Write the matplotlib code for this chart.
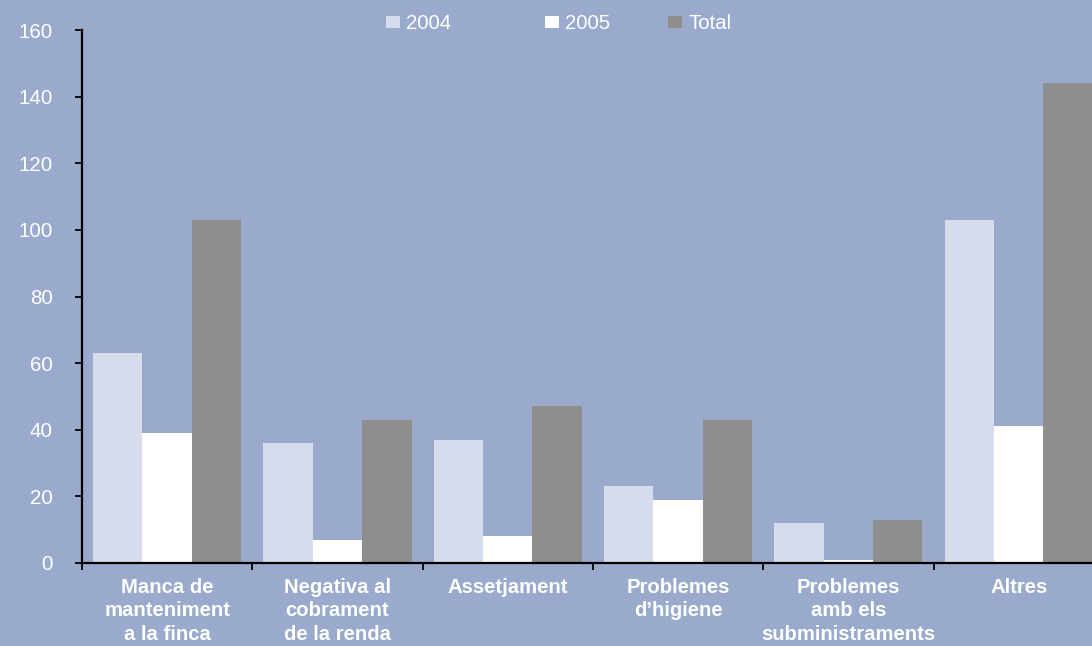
import matplotlib.pyplot as plt
import numpy as np
from matplotlib.patches import Patch

plt.rcParams['font.family'] = ['Liberation Sans', 'DejaVu Sans']

categories = [
    "Manca de\nmanteniment\na la finca",
    "Negativa al\ncobrament\nde la renda",
    "Assetjament",
    "Problemes\nd\u2019higiene",
    "Problemes\namb els\nsubministraments",
    "Altres",
]
series_names = ["2004", "2005", "Total"]
values_2004 = [63, 36, 37, 23, 12, 103]
values_2005 = [39, 7, 8, 19, 1, 41]
values_total = [103, 43, 47, 43, 13, 144]
y_ticks = [0, 20, 40, 60, 80, 100, 120, 140, 160]

bg = "#99aacd"
colors = ["#d6dcec", "#ffffff", "#8e8e8e"]

fig = plt.figure(figsize=(10.92, 6.46), dpi=100, facecolor=bg)
ax = fig.add_axes([82 / 1092, 83 / 646, 6 * 170.3 / 1092, 533 / 646])
ax.set_facecolor(bg)

x = np.arange(len(categories))
width = 0.29
for i, (vals, name) in enumerate(zip([values_2004, values_2005, values_total], series_names)):
    ax.bar(x + (i - 1) * width, vals, width, color=colors[i], label=name, linewidth=0)

ax.set_xlim(-0.5, len(categories) - 0.5)
ax.set_ylim(0, 160)
ax.set_yticks(y_ticks)
ax.set_yticklabels([str(t) for t in y_ticks], color="white", fontsize=14.8)
ax.tick_params(axis="y", length=5, width=1.3, pad=16, color="black")

ax.set_xticks(x)
ax.set_xticklabels(categories, color="white", fontsize=14.6, fontweight="bold",
                   linespacing=1.3, va="top")
ax.tick_params(axis="x", which="major", length=0, pad=10.5)
ax.set_xticks(np.arange(-0.5, len(categories) + 0.5), minor=True)
ax.tick_params(axis="x", which="minor", length=5, width=1.3, color="black")

for side in ["top", "right"]:
    ax.spines[side].set_visible(False)
for side in ["left", "bottom"]:
    ax.spines[side].set_linewidth(1.6)
    ax.spines[side].set_color("black")

# one legend entry per series, spaced out across the top
legend_x = [386, 545, 668]
for name, col, lx in zip(series_names, colors, legend_x):
    fig.legend(handles=[Patch(facecolor=col, edgecolor="none")], labels=[name],
               loc="center left", bbox_to_anchor=(lx / 1092, 1 - 23.5 / 646),
               frameon=False, fontsize=14.7, labelcolor="white",
               handlelength=0.68, handleheight=0.55, handletextpad=0.3,
               borderpad=0, borderaxespad=0)

fig.savefig("out.png", dpi=100, facecolor=bg)
